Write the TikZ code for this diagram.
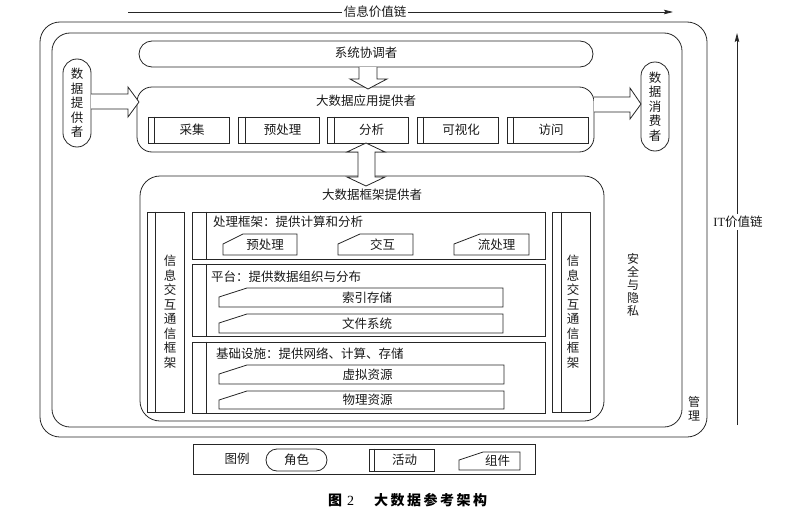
\documentclass[tikz,border=0pt]{standalone}
\usepackage{fontspec}
\setmainfont{Liberation Serif}
\newfontfamily\cjk{Noto Sans CJK SC}
\usetikzlibrary{fit,arrows.meta}
\tikzset{
  ln/.style={draw=black!85, line width=0.8pt},
  txt/.style={font=\cjk\fontsize{12.5}{14.5}\selectfont, inner sep=0pt, text=black!90},
  vtxt/.style={txt, align=center},
  blockarrow/.style={ln, fill=white, line join=miter},
  chainarrow/.style={draw=black!85, line width=0.8pt, -{Stealth[length=9pt,width=4.5pt,inset=1.5pt]}},
}
% activity box: name, x1, y1, x2, y2, strip, text
\newcommand\actv[7]{%
  \node[ln, inner sep=0pt, fit={(#2,#3)(#4,#5)}] (#1) {};
  \draw[ln] ([xshift=#6pt]#1.north west) -- ([xshift=#6pt]#1.south west);
  \node[txt] (#1t) at ([xshift=#6pt/2]#1.center) {#7};}
% component box: name, x1, y1, x2, y2, xs, ys, dx, text
\newcommand\compo[9]{%
  \node[inner sep=0pt, fit={(#2,#3)(#4,#5)}] (#1) {};
  \draw[ln] (#2,#5) -- (#2,#7) -- (#6,#3) -- (#4,#3) -- (#4,#5) -- cycle;
  \node[txt] (#1t) at ([xshift=#8pt]#1.center) {#9};}
\begin{document}
\begin{tikzpicture}[x=1pt,y=-1pt]
\useasboundingbox (0,0) rectangle (812,514);

% value chains
\coordinate (iv1) at (128,12);
\coordinate (iv2) at (673,12);
\draw[chainarrow] (iv1) -- (iv2);
\node[txt, fill=white, inner xsep=2pt, inner ysep=1pt] (ivt) at (375,12) {信息价值链};

\coordinate (it1) at (737,425);
\coordinate (it2) at (737,33);
\draw[chainarrow] (it1) -- (it2);
\node[txt, fill=white, inner xsep=0pt, inner ysep=2pt] (itt) at (738,222) {{\rmfamily IT}价值链};

% frames
\node[ln, rounded corners=20pt, inner sep=0pt, fit={(40,22)(707,437)}] (mgmt) {};
\node[ln, rounded corners=18pt, inner sep=0pt, fit={(52,33)(682,427)}] (sec) {};
\node[vtxt, font=\cjk\fontsize{12}{14}\selectfont] (mgmtt) at (694,409) {管\\理};
\node[vtxt, font=\cjk\fontsize{12}{12.8}\selectfont] (sect) at (633,285) {安\\全\\与\\隐\\私};

% system orchestrator
\node[ln, rounded corners=13pt, inner sep=0pt, fit={(139,41)(593,67)}] (orch) {};
\node[txt] (orcht) at (366,53) {系统协调者};

% data provider / consumer
\node[ln, rounded corners=14pt, inner sep=0pt, fit={(63,59)(91,147)}] (prov) {};
\node[vtxt] (provt) at (prov.center) {数\\据\\提\\供\\者};
\node[ln, rounded corners=14pt, inner sep=0pt, fit={(641,62)(669,151)}] (cons) {};
\node[vtxt] (const) at (cons.center) {数\\据\\消\\费\\者};

% application provider
\node[ln, rounded corners=15pt, inner sep=0pt, fit={(137,87)(594,152)}] (app) {};
\node[txt] (appt) at (366,101) {大数据应用提供者};
\actv{a1}{148}{117}{229}{143}{7}{采集}
\actv{a2}{238}{117}{319}{143}{8}{预处理}
\actv{a3}{327}{117}{408}{143}{8}{分析}
\actv{a4}{417}{117}{498}{143}{7}{可视化}
\actv{a5}{507}{117}{588}{143}{7}{访问}

% framework provider
\node[ln, rounded corners=20pt, inner sep=0pt, fit={(140,176)(604,421)}] (fw) {};
\node[txt] (fwt) at (372,195) {大数据框架提供者};

\actv{colL}{147}{212}{184}{412}{9}{}
\node[vtxt] (colLt) at (170,312) {信\\息\\交\\互\\通\\信\\框\\架};
\actv{colR}{552}{212}{590}{412}{10}{}
\node[vtxt] (colRt) at (573,312) {信\\息\\交\\互\\通\\信\\框\\架};

\actv{proc}{192}{212}{545}{259}{15}{}
\node[txt, anchor=west] (proct) at (213,222) {处理框架：提供计算和分析};
\compo{p1}{223}{234}{297}{255}{243}{244}{5}{预处理}
\compo{p2}{338}{234}{413}{255}{360}{244}{7}{交互}
\compo{p3}{454}{234}{529}{255}{480}{244}{5}{流处理}

\actv{plat}{192}{264}{545}{336}{15}{}
\node[txt, anchor=west] (platt) at (211,277) {平台：提供数据组织与分布};
\compo{q1}{219}{288}{503}{307}{247}{297}{6}{索引存储}
\compo{q2}{219}{314}{503}{333}{247}{323}{6}{文件系统}

\actv{infra}{192}{342}{545}{413}{15}{}
\node[txt, anchor=west] (infrat) at (216,354) {基础设施：提供网络、计算、存储};
\compo{r1}{219}{365}{504}{384}{247}{374}{6}{虚拟资源}
\compo{r2}{219}{391}{504}{409}{247}{400}{6}{物理资源}

% block arrows
\draw[blockarrow] (359,67) -- (359,79) -- (350,79) -- (368,89) -- (387,79) -- (377,79) -- (377,67);
\draw[blockarrow] (91,94) -- (128,94) -- (128,87) -- (139,102) -- (128,117) -- (128,109) -- (91,109);
\draw[blockarrow] (594,97) -- (630,97) -- (630,88) -- (641,104) -- (630,119) -- (630,112) -- (594,112);
\draw[blockarrow] (366,143) -- (385,152) -- (375,152) -- (375,177) -- (385,177) -- (366,186)
  -- (347,177) -- (358,177) -- (358,152) -- (347,152) -- cycle;

% legend
\node[ln, inner sep=0pt, fit={(193,444)(535,474)}] (legend) {};
\node[txt] (legt) at (237,459) {图例};
\node[ln, rounded corners=11pt, inner sep=0pt, fit={(266,449)(327,471)}] (lrole) {};
\node[txt] (lrolet) at (lrole.center) {角色};
\actv{lact}{369}{449}{434}{471}{6}{活动}
\compo{lcomp}{459}{452}{520}{470}{483}{460}{8}{组件}

% caption
\node[anchor=west, inner sep=0pt, font=\cjk\bfseries\fontsize{14}{16}\selectfont] (cap) at (328,500)
  {图\hspace{5pt}{\rmfamily\mdseries 2}\hspace{20pt}大\kern2.5pt数\kern2.5pt据\kern2.5pt参\kern2.5pt考\kern2.5pt架\kern2.5pt构};
\end{tikzpicture}
\end{document}
